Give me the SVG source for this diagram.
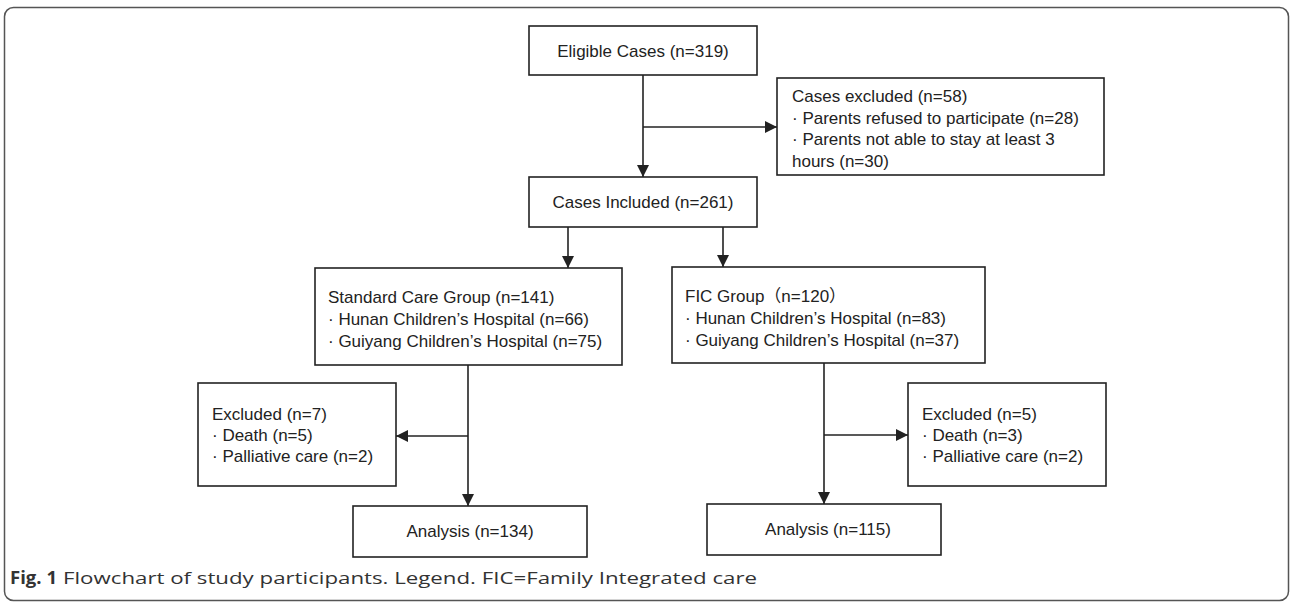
<svg xmlns="http://www.w3.org/2000/svg" width="1292" height="603" viewBox="0 0 1292 603">
<defs>
<style>
.box{fill:#fff;stroke:#222;stroke-width:1.6}
.t{font-family:"Liberation Sans","Noto Sans CJK SC",Arial,sans-serif;font-size:17px;fill:#222}
.c{text-anchor:middle}
.ln{fill:none;stroke:#222;stroke-width:1.6}
.cap{font-family:"Open Sans","Liberation Sans",sans-serif;font-size:17px;fill:#333}
</style>
<marker id="ah" markerUnits="userSpaceOnUse" markerWidth="12" markerHeight="12" refX="12" refY="6" orient="auto">
<path d="M0,0 L12,6 L0,12 Z" fill="#222"/>
</marker>
</defs>
<rect width="1292" height="603" fill="#fff"/>
<rect x="4.5" y="7.5" width="1284" height="593" rx="9" fill="none" stroke="#555" stroke-width="1.5"/>

<g id="connectors">
<line class="ln" x1="643" y1="75" x2="643" y2="177" marker-end="url(#ah)"/>
<line class="ln" x1="643" y1="127" x2="777" y2="127" marker-end="url(#ah)"/>
<line class="ln" x1="568" y1="227" x2="568" y2="268" marker-end="url(#ah)"/>
<line class="ln" x1="723" y1="227" x2="723" y2="267" marker-end="url(#ah)"/>
<line class="ln" x1="468" y1="365" x2="468" y2="506" marker-end="url(#ah)"/>
<line class="ln" x1="468" y1="436" x2="396" y2="436" marker-end="url(#ah)"/>
<line class="ln" x1="824" y1="363" x2="824" y2="504" marker-end="url(#ah)"/>
<line class="ln" x1="824" y1="435" x2="908" y2="435" marker-end="url(#ah)"/>
</g>

<g id="eligible">
<rect class="box" x="529" y="26" width="228" height="49"/>
<text class="t c" x="643" y="57">Eligible Cases (n=319)</text>
</g>
<g id="excluded58">
<rect class="box" x="777" y="78" width="327" height="97"/>
<text class="t" x="792" y="102">Cases excluded (n=58)</text>
<text class="t" x="792" y="123.5">· Parents refused to participate (n=28)</text>
<text class="t" x="792" y="145">· Parents not able to stay at least 3</text>
<text class="t" x="792" y="166.5">hours (n=30)</text>
</g>
<g id="included">
<rect class="box" x="529" y="177" width="228" height="50"/>
<text class="t c" x="643" y="208">Cases Included (n=261)</text>
</g>
<g id="standard">
<rect class="box" x="315" y="268" width="307" height="97"/>
<text class="t" x="328" y="303">Standard Care Group (n=141)</text>
<text class="t" x="328" y="325">· Hunan Children’s Hospital (n=66)</text>
<text class="t" x="328" y="347">· Guiyang Children’s Hospital (n=75)</text>
</g>
<g id="fic">
<rect class="box" x="672" y="267" width="313" height="96"/>
<text class="t" x="685" y="302">FIC Group（n=120）</text>
<text class="t" x="685" y="324">· Hunan Children’s Hospital (n=83)</text>
<text class="t" x="685" y="346">· Guiyang Children’s Hospital (n=37)</text>
</g>
<g id="excluded7">
<rect class="box" x="198" y="383" width="198" height="103"/>
<text class="t" x="212" y="420">Excluded (n=7)</text>
<text class="t" x="212" y="441">· Death (n=5)</text>
<text class="t" x="212" y="462">· Palliative care (n=2)</text>
</g>
<g id="excluded5">
<rect class="box" x="908" y="383" width="198" height="103"/>
<text class="t" x="922" y="420">Excluded (n=5)</text>
<text class="t" x="922" y="441">· Death (n=3)</text>
<text class="t" x="922" y="462">· Palliative care (n=2)</text>
</g>
<g id="analysis134">
<rect class="box" x="353" y="506" width="234" height="51"/>
<text class="t c" x="470" y="537">Analysis (n=134)</text>
</g>
<g id="analysis115">
<rect class="box" x="707" y="504" width="234" height="51"/>
<text class="t c" x="828" y="535">Analysis (n=115)</text>
</g>
<g id="caption">
<text class="cap" x="10" y="584" font-weight="bold" fill="#222" textLength="47" lengthAdjust="spacingAndGlyphs">Fig. 1</text>
<text class="cap" x="63" y="584" textLength="694" lengthAdjust="spacingAndGlyphs">Flowchart of study participants. Legend. FIC=Family Integrated care</text>
</g>
</svg>
